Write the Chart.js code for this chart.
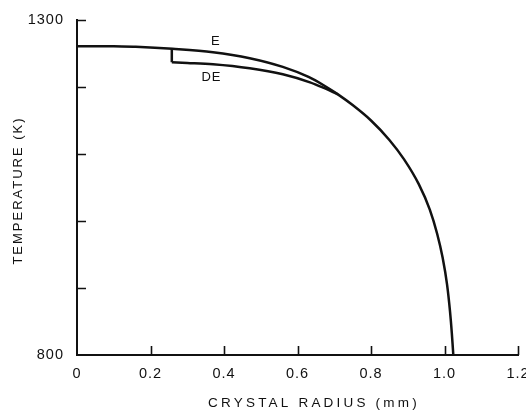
<!DOCTYPE html>
<html>
<head>
<meta charset="utf-8">
<script src="https://cdn.jsdelivr.net/npm/chart.js@4.4.1/dist/chart.umd.min.js"></script>
<style>
  html, body { margin: 0; padding: 0; background: #fff; }
  #wrap { width: 526px; height: 410px; }
</style>
</head>
<body>
<div id="wrap"><canvas id="c" width="526" height="410"></canvas></div>
<script>
// ---- data ----
const xTickLabels = ['0', '0.2', '0.4', '0.6', '0.8', '1.0', '1.2'];
const yTickLabels = { 800: '800', 1300: '1300' };

// curve E: [radius (mm), temperature (K)]
const curveE = [
  [0.00, 1261], [0.10, 1261], [0.16, 1260], [0.26, 1257], [0.37, 1252],
  [0.47, 1243], [0.56, 1230], [0.63, 1215], [0.67, 1203], [0.71, 1189],
  [0.75, 1173], [0.80, 1150], [0.85, 1121], [0.89, 1092], [0.93, 1055],
  [0.96, 1017], [0.98, 981], [0.995, 945], [1.007, 905], [1.015, 865],
  [1.020, 832], [1.023, 808], [1.024, 800]
];

// step of curve DE at r = 0.258
const stepDE = [[0.258, 1257], [0.258, 1237]];

// curve DE after the step, rejoining E
const curveDE = [
  [0.258, 1237], [0.30, 1236], [0.37, 1234], [0.47, 1228],
  [0.56, 1219], [0.634, 1207], [0.67, 1199], [0.71, 1189]
];

const curveLabels = [
  { text: 'E',  x: 0.378, y: 1268 },
  { text: 'DE', x: 0.366, y: 1215 }
];

const xTitle = 'CRYSTAL RADIUS (mm)';
const yTitle = 'TEMPERATURE (K)';

// ---- chart ----
const FONT = '"Liberation Sans", Arial, Helvetica, sans-serif';
const INK = '#111';

const toPts = arr => arr.map(p => ({ x: p[0], y: p[1] }));

const letterSpacingPlugin = {
  id: 'spacing',
  beforeDraw(chart) { chart.ctx.letterSpacing = '1px'; }
};

const innerTicks = {
  id: 'innerTicks',
  afterDraw(chart) {
    const { ctx, chartArea, scales } = chart;
    ctx.save();
    ctx.strokeStyle = INK;
    ctx.lineWidth = 1.6;
    ctx.beginPath();
    scales.x.ticks.forEach(t => {
      if (t.value === 0) return;
      const px = Math.round(scales.x.getPixelForValue(t.value)) + 0.5;
      ctx.moveTo(px, chartArea.bottom);
      ctx.lineTo(px, chartArea.bottom - 9);
    });
    scales.y.ticks.forEach(t => {
      if (t.value === 800) return;
      const py = Math.round(scales.y.getPixelForValue(t.value)) + 0.5;
      ctx.moveTo(chartArea.left, py);
      ctx.lineTo(chartArea.left + 9, py);
    });
    ctx.stroke();
    ctx.restore();
  }
};

const annotations = {
  id: 'annotations',
  afterDatasetsDraw(chart) {
    const { ctx, scales, chartArea } = chart;
    ctx.save();
    ctx.fillStyle = INK;
    ctx.letterSpacing = '1px';
    ctx.font = '13px ' + FONT;
    ctx.textAlign = 'center';
    ctx.textBaseline = 'middle';
    curveLabels.forEach(l => {
      ctx.fillText(l.text, scales.x.getPixelForValue(l.x), scales.y.getPixelForValue(l.y));
    });
    // axis titles
    ctx.font = '13.5px ' + FONT;
    ctx.letterSpacing = '3.2px';
    ctx.fillText(xTitle, chartArea.left + 237, chart.height - 7);
    ctx.translate(18, (chartArea.top + chartArea.bottom) / 2 + 3);
    ctx.rotate(-Math.PI / 2);
    ctx.font = '13px ' + FONT;
    ctx.letterSpacing = '2px';
    ctx.fillText(yTitle, 0, 0);
    ctx.restore();
  }
};

const lineDs = (label, arr, smooth) => ({
  label, data: toPts(arr), showLine: true, borderColor: INK, borderWidth: 2.5,
  pointRadius: 0, fill: false, borderCapStyle: 'butt', borderJoinStyle: 'miter',
  tension: 0, cubicInterpolationMode: smooth ? 'monotone' : 'default'
});

new Chart(document.getElementById('c'), {
  type: 'scatter',
  data: {
    datasets: [
      lineDs('E', curveE, true),
      lineDs('DE step', stepDE, false),
      lineDs('DE', curveDE, true)
    ]
  },
  options: {
    responsive: false,
    animation: false,
    devicePixelRatio: 1,
    layout: { padding: { left: 0, top: 20, right: 8, bottom: 0 } },
    plugins: { legend: { display: false }, tooltip: { enabled: false } },
    scales: {
      x: {
        type: 'linear', min: 0, max: 1.2,
        afterFit: s => { s.height = 55; s.paddingLeft = 0; s.paddingRight = 0; },
        afterBuildTicks: s => { s.ticks = xTickLabels.map((_, i) => ({ value: i * 0.2 })); },
        ticks: {
          color: INK, padding: 10, maxRotation: 0, autoSkip: false,
          font: { family: FONT, size: 14.5 },
          callback: (v, i) => xTickLabels[i]
        },
        grid: { display: true, drawOnChartArea: false, drawTicks: false },
        border: { display: true, color: INK, width: 2 }
      },
      y: {
        type: 'linear', min: 800, max: 1300,
        afterFit: s => { s.width = 77; s.paddingTop = 0; s.paddingBottom = 0; },
        ticks: {
          stepSize: 100, color: INK, padding: 13, autoSkip: false,
          font: { family: FONT, size: 14.5 },
          callback: v => yTickLabels[v] || ''
        },
        grid: { display: true, drawOnChartArea: false, drawTicks: false },
        border: { display: true, color: INK, width: 2 }
      }
    }
  },
  plugins: [letterSpacingPlugin, innerTicks, annotations]
});
</script>
</body>
</html>
